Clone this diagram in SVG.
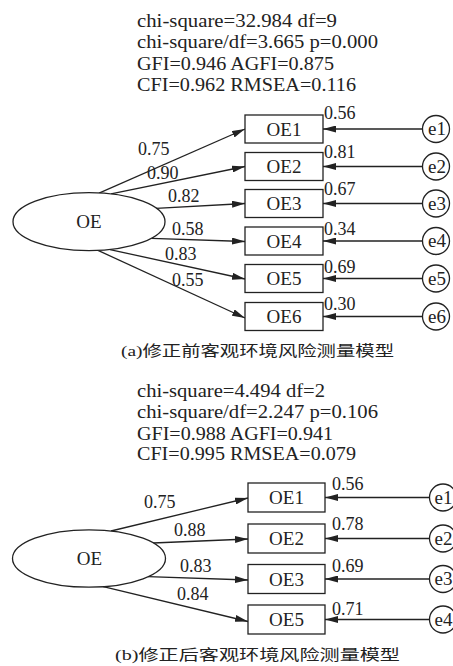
<svg xmlns="http://www.w3.org/2000/svg" width="453" height="666" viewBox="0 0 453 666">
<style>
text{font-family:"Liberation Serif","Times New Roman",serif;fill:#222;}
.stat{font-size:18px;}
.lbl{font-size:18px;}
.node{font-size:19px;text-anchor:middle;}
.cap{font-family:"Liberation Serif","Noto Sans CJK SC",serif;font-size:15px;}
.box{fill:#fff;stroke:#222;stroke-width:1.3;}
.ell{fill:#fff;stroke:#222;stroke-width:1.3;}
.conn line{stroke:#222;stroke-width:1.3;marker-end:url(#ah);}
</style>
<defs>
<marker id="ah" viewBox="0 0 13 7" refX="13" refY="3.5" markerWidth="13" markerHeight="7" orient="auto" markerUnits="userSpaceOnUse"><path d="M0,0 L13,3.5 L0,7 z" fill="#222"/></marker>
</defs>

<!-- (a) stats -->
<g id="stats-a" class="stat">
<text x="137" y="27" textLength="200" lengthAdjust="spacingAndGlyphs">chi-square=32.984 df=9</text>
<text x="137" y="48" textLength="241" lengthAdjust="spacingAndGlyphs">chi-square/df=3.665 p=0.000</text>
<text x="137" y="70" textLength="197" lengthAdjust="spacingAndGlyphs">GFI=0.946 AGFI=0.875</text>
<text x="137" y="90.5" textLength="219" lengthAdjust="spacingAndGlyphs">CFI=0.962 RMSEA=0.116</text>
</g>

<!-- (a) connectors -->
<g id="connectors-a" class="conn">
<line x1="99" y1="193.2" x2="245" y2="129"/>
<line x1="111" y1="193.9" x2="245" y2="166.5"/>
<line x1="156" y1="208.3" x2="245" y2="203.5"/>
<line x1="151.5" y1="238.3" x2="245" y2="241.5"/>
<line x1="110" y1="249.6" x2="245" y2="279"/>
<line x1="98" y1="250.4" x2="245" y2="318"/>
<line x1="422.5" y1="129" x2="323" y2="129"/>
<line x1="422.5" y1="166.5" x2="323" y2="166.5"/>
<line x1="422.5" y1="203.5" x2="323" y2="203.5"/>
<line x1="422.5" y1="241" x2="323" y2="241"/>
<line x1="422.5" y1="278.5" x2="323" y2="278.5"/>
<line x1="422.5" y1="316.5" x2="323" y2="316.5"/>
</g>

<g id="labels-a" class="lbl">
<text x="138" y="155">0.75</text>
<text x="147" y="178.5">0.90</text>
<text x="168" y="201.5">0.82</text>
<text x="172" y="235">0.58</text>
<text x="165" y="260">0.83</text>
<text x="172" y="285.5">0.55</text>
<text x="324" y="119">0.56</text>
<text x="324" y="158">0.81</text>
<text x="324" y="195">0.67</text>
<text x="324" y="235">0.34</text>
<text x="324" y="272.5">0.69</text>
<text x="324" y="310">0.30</text>
</g>

<g id="a-OE"><ellipse class="ell" cx="89" cy="221.7" rx="76" ry="29"/><text class="node" x="89" y="228.3">OE</text></g>
<g id="a-OE1"><rect class="box" x="245" y="115" width="78" height="28"/><text class="node" x="284" y="135.5">OE1</text></g>
<g id="a-OE2"><rect class="box" x="245" y="152.5" width="78" height="28"/><text class="node" x="284" y="173">OE2</text></g>
<g id="a-OE3"><rect class="box" x="245" y="189.5" width="78" height="28"/><text class="node" x="284" y="210">OE3</text></g>
<g id="a-OE4"><rect class="box" x="245" y="227" width="78" height="28"/><text class="node" x="284" y="247.5">OE4</text></g>
<g id="a-OE5"><rect class="box" x="245" y="264.5" width="78" height="28"/><text class="node" x="284" y="285">OE5</text></g>
<g id="a-OE6"><rect class="box" x="245" y="302.5" width="78" height="28"/><text class="node" x="284" y="323">OE6</text></g>
<g id="a-e1"><circle class="box" cx="436" cy="129" r="13.5"/><text class="node" x="437" y="135">e1</text></g>
<g id="a-e2"><circle class="box" cx="436" cy="166.5" r="13.5"/><text class="node" x="437" y="172.5">e2</text></g>
<g id="a-e3"><circle class="box" cx="436" cy="203.5" r="13.5"/><text class="node" x="437" y="209.5">e3</text></g>
<g id="a-e4"><circle class="box" cx="436" cy="241" r="13.5"/><text class="node" x="437" y="247">e4</text></g>
<g id="a-e5"><circle class="box" cx="436" cy="278.5" r="13.5"/><text class="node" x="437" y="284.5">e5</text></g>
<g id="a-e6"><circle class="box" cx="436" cy="316.5" r="13.5"/><text class="node" x="437" y="322.5">e6</text></g>

<text class="cap" x="121" y="356" textLength="273" lengthAdjust="spacingAndGlyphs">(a)修正前客观环境风险测量模型</text>

<!-- (b) stats -->
<g id="stats-b" class="stat">
<text x="137" y="397" textLength="188" lengthAdjust="spacingAndGlyphs">chi-square=4.494 df=2</text>
<text x="137" y="418" textLength="241" lengthAdjust="spacingAndGlyphs">chi-square/df=2.247 p=0.106</text>
<text x="137" y="439.5" textLength="196" lengthAdjust="spacingAndGlyphs">GFI=0.988 AGFI=0.941</text>
<text x="137" y="460" textLength="219" lengthAdjust="spacingAndGlyphs">CFI=0.995 RMSEA=0.079</text>
</g>

<g id="connectors-b" class="conn">
<line x1="111" y1="531" x2="248" y2="498"/>
<line x1="153" y1="543" x2="248" y2="539"/>
<line x1="148" y1="576.7" x2="248" y2="580"/>
<line x1="103.3" y1="586.7" x2="248" y2="621.5"/>
<line x1="429.5" y1="497.5" x2="325" y2="497.5"/>
<line x1="429.5" y1="538.5" x2="325" y2="538.5"/>
<line x1="429.5" y1="579" x2="325" y2="579"/>
<line x1="429.5" y1="619.5" x2="325" y2="619.5"/>
</g>

<g id="labels-b" class="lbl">
<text x="144" y="508">0.75</text>
<text x="174" y="536">0.88</text>
<text x="180" y="571.5">0.83</text>
<text x="177" y="600">0.84</text>
<text x="332" y="490">0.56</text>
<text x="332" y="530">0.78</text>
<text x="332" y="571.5">0.69</text>
<text x="332" y="615">0.71</text>
</g>

<g id="b-OE"><ellipse class="ell" cx="89" cy="558.5" rx="76.5" ry="28.7"/><text class="node" x="89.5" y="565">OE</text></g>
<g id="b-OE1"><rect class="box" x="248" y="483" width="77" height="29"/><text class="node" x="286.5" y="504">OE1</text></g>
<g id="b-OE2"><rect class="box" x="248" y="524" width="77" height="29"/><text class="node" x="286.5" y="545">OE2</text></g>
<g id="b-OE3"><rect class="box" x="248" y="564.5" width="77" height="29"/><text class="node" x="286.5" y="585.5">OE3</text></g>
<g id="b-OE5"><rect class="box" x="248" y="605" width="77" height="29"/><text class="node" x="286.5" y="626">OE5</text></g>
<g id="b-e1"><circle class="box" cx="443" cy="497.5" r="13.5"/><text class="node" x="443.5" y="503.5">e1</text></g>
<g id="b-e2"><circle class="box" cx="443" cy="538.5" r="13.5"/><text class="node" x="443.5" y="544.5">e2</text></g>
<g id="b-e3"><circle class="box" cx="443" cy="579" r="13.5"/><text class="node" x="443.5" y="585">e3</text></g>
<g id="b-e4"><circle class="box" cx="443" cy="619.5" r="13.5"/><text class="node" x="443.5" y="625.5">e4</text></g>

<text class="cap" x="115" y="660" textLength="285" lengthAdjust="spacingAndGlyphs">(b)修正后客观环境风险测量模型</text>
</svg>
